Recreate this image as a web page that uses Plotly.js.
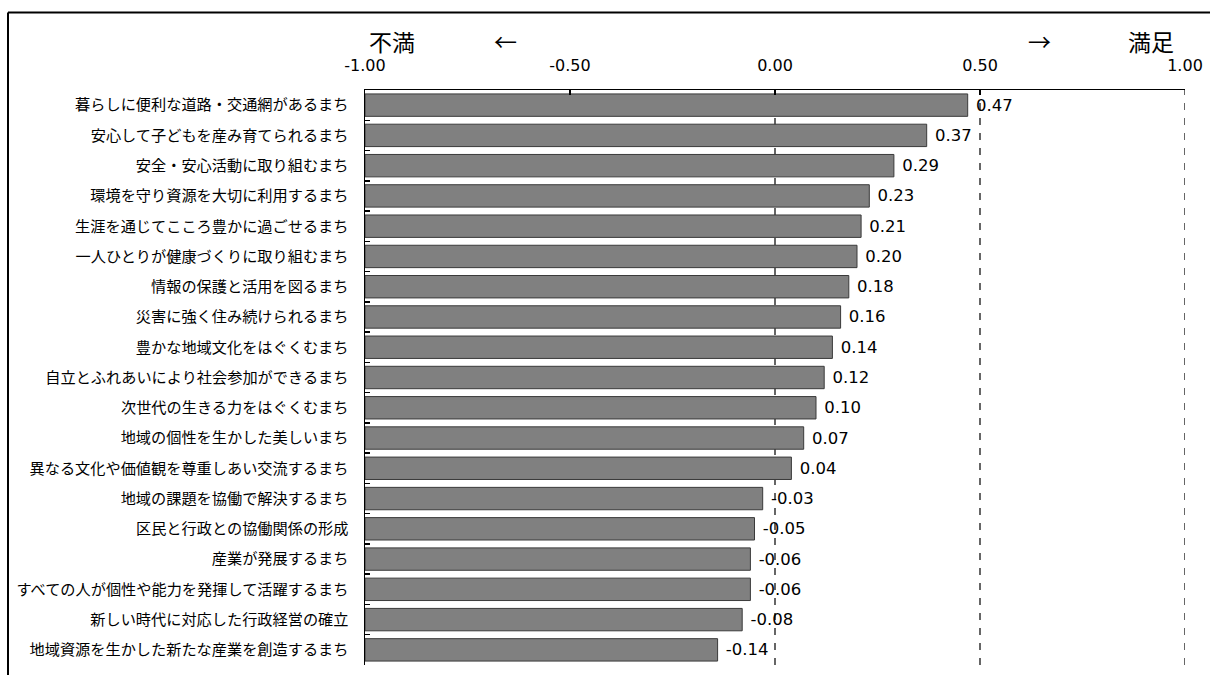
<!DOCTYPE html>
<html>
<head>
<meta charset="utf-8">
<script src="https://cdn.plot.ly/plotly-3.0.1.min.js"></script>
<style>html,body{margin:0;padding:0;background:#fff;}#chart{width:1210px;height:675px;}</style>
</head>
<body>
<div id="chart"></div>
<script>
const categories = [
  "暮らしに便利な道路・交通網があるまち",
  "安心して子どもを産み育てられるまち",
  "安全・安心活動に取り組むまち",
  "環境を守り資源を大切に利用するまち",
  "生涯を通じてこころ豊かに過ごせるまち",
  "一人ひとりが健康づくりに取り組むまち",
  "情報の保護と活用を図るまち",
  "災害に強く住み続けられるまち",
  "豊かな地域文化をはぐくむまち",
  "自立とふれあいにより社会参加ができるまち",
  "次世代の生きる力をはぐくむまち",
  "地域の個性を生かした美しいまち",
  "異なる文化や価値観を尊重しあい交流するまち",
  "地域の課題を協働で解決するまち",
  "区民と行政との協働関係の形成",
  "産業が発展するまち",
  "すべての人が個性や能力を発揮して活躍するまち",
  "新しい時代に対応した行政経営の確立",
  "地域資源を生かした新たな産業を創造するまち"
];
const values = [0.47, 0.37, 0.29, 0.23, 0.21, 0.20, 0.18, 0.16, 0.14, 0.12, 0.10, 0.07, 0.04, -0.03, -0.05, -0.06, -0.06, -0.08, -0.14];
const axisMin = -1;
const tickValues = [-1, -0.5, 0, 0.5, 1];
const tickLabels = ["-1.00", "-0.50", "0.00", "0.50", "1.00"];
const dashedAt = [0, 0.5, 1];
const leftLabel = "不満", leftArrow = "←", rightArrow = "→", rightLabel = "満足";

const W = 1210, H = 675;
const M = {l: 365, r: 25, t: 90, b: 10};
const pw = W - M.l - M.r, ph = H - M.t - M.b;
const px = x => (x - M.l) / pw;
const py = y => (H - M.b - y) / ph;

const font = "'Noto Sans CJK JP', 'Noto Sans', sans-serif";
const numFont = "'DejaVu Sans', sans-serif";

const trace = {
  type: 'bar',
  orientation: 'h',
  y: categories,
  x: values.map(v => v - axisMin),
  base: axisMin,
  text: values.map(v => ' ' + v.toFixed(2)),
  textposition: 'outside',
  cliponaxis: false,
  textfont: {family: numFont, size: 16.5, color: '#000'},
  marker: {color: '#808080', line: {color: '#3a3a3a', width: 1}},
  width: 0.74,
  hoverinfo: 'skip'
};

const shapes = dashedAt.map(v => ({
  type: 'line', xref: 'x', yref: 'paper', x0: v, x1: v, y0: 0, y1: 1,
  layer: 'below', line: {color: '#000', width: 1.2, dash: '7px,8px'}
}));
// outer frame (top and left edges visible)
shapes.push({type: 'line', xref: 'paper', yref: 'paper', x0: px(8), x1: px(1215), y0: py(12.5), y1: py(12.5), line: {color: '#000', width: 2}});
shapes.push({type: 'line', xref: 'paper', yref: 'paper', x0: px(8), x1: px(8), y0: py(12.5), y1: py(680), line: {color: '#000', width: 2}});

const annFont = {family: font, size: 23, color: '#000'};
const annotations = [
  {text: leftLabel, x: px(392), y: py(41)},
  {text: leftArrow, x: px(505), y: py(41)},
  {text: rightArrow, x: px(1039), y: py(41)},
  {text: rightLabel, x: px(1151), y: py(41)}
].map(a => Object.assign({xref: 'paper', yref: 'paper', showarrow: false, xanchor: 'center', yanchor: 'middle', font: annFont}, a));

const layout = {
  width: W, height: H,
  margin: M,
  paper_bgcolor: '#fff', plot_bgcolor: 'rgba(0,0,0,0)',
  showlegend: false,
  font: {family: font, color: '#000'},
  xaxis: {
    side: 'top', range: [-1, 1], tickvals: tickValues, ticktext: tickLabels,
    showgrid: false, zeroline: false, showline: true, linecolor: '#000', linewidth: 1.5,
    ticks: 'inside', ticklen: 5, tickcolor: '#000', tickwidth: 1.5,
    ticklabelstandoff: 11,
    tickfont: {family: numFont, size: 16, color: '#000'}, fixedrange: true
  },
  yaxis: {
    autorange: 'reversed', type: 'category',
    showgrid: false, zeroline: false, showline: true, linecolor: '#000', linewidth: 1.5,
    ticks: 'inside', tickson: 'boundaries', ticklen: 5, tickcolor: '#000', tickwidth: 1.5,
    ticklabelstandoff: 12,
    tickfont: {family: font, size: 15.2, color: '#000'}, fixedrange: true
  },
  shapes: shapes,
  annotations: annotations
};

Plotly.newPlot('chart', [trace], layout, {displayModeBar: false, staticPlot: true});
</script>
</body>
</html>
